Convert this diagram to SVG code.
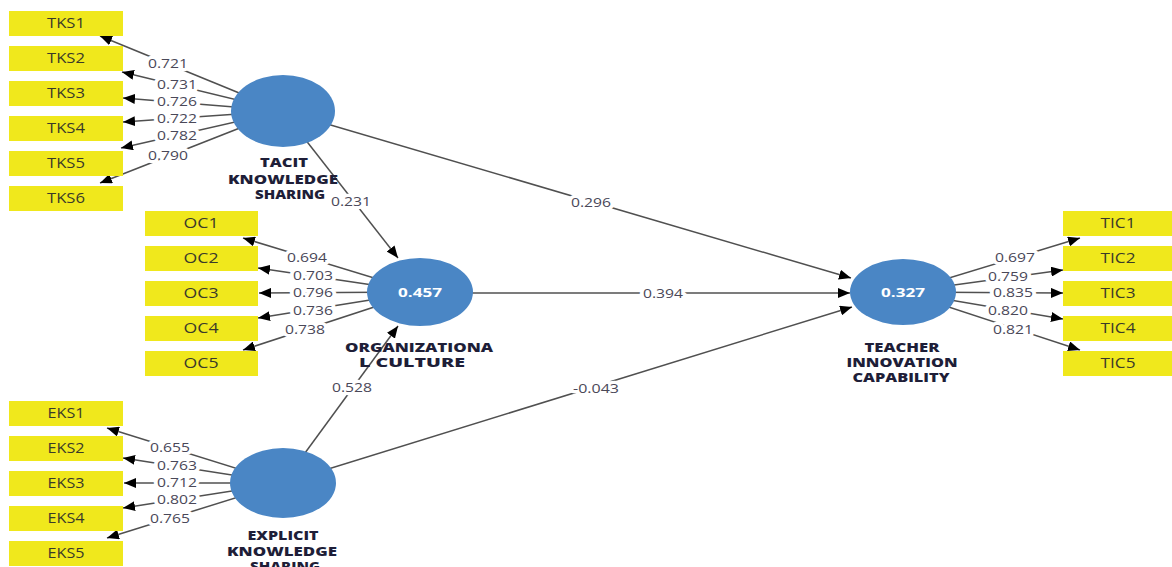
<svg xmlns="http://www.w3.org/2000/svg" width="1172" height="567" viewBox="0 0 1172 567">
<style>
.bg{fill:#ffffff}
.ln{stroke:#505050;stroke-width:1.5;fill:none;marker-end:url(#ah)}
.num{font-family:"Open Sans","Liberation Sans",sans-serif;font-size:13px;fill:#4a4858;stroke:#ffffff;stroke-width:6.5;paint-order:stroke;stroke-linejoin:round;text-anchor:middle}
.box{fill:#f0e81c}
.bt{font-family:"Open Sans","Liberation Sans",sans-serif;font-size:14px;fill:#3a3a2a;text-anchor:middle}
.ell{fill:#4a86c5}
.val{font-family:"Open Sans","Liberation Sans",sans-serif;font-size:13px;font-weight:700;fill:#ffffff;text-anchor:middle}
.lab{font-family:"Open Sans","Liberation Sans",sans-serif;font-size:12.5px;font-weight:800;fill:#1e1e38;text-anchor:middle}
</style>
<defs>
<marker id="ah" markerUnits="userSpaceOnUse" markerWidth="13" markerHeight="10" refX="12" refY="5" orient="auto">
<path d="M0,0 L12,5 L0,10 z" fill="#000000"/>
</marker>
</defs>
<rect class="bg" x="0" y="0" width="1172" height="567"/>
<g id="connectors">
<line class="ln" x1="283" y1="111" x2="100" y2="36"/>
<line class="ln" x1="283" y1="111" x2="122" y2="72"/>
<line class="ln" x1="283" y1="111" x2="123" y2="98"/>
<line class="ln" x1="283" y1="111" x2="123" y2="122"/>
<line class="ln" x1="283" y1="111" x2="121" y2="148"/>
<line class="ln" x1="283" y1="111" x2="100" y2="183"/>
<line class="ln" x1="420" y1="292" x2="243" y2="238"/>
<line class="ln" x1="420" y1="292" x2="258" y2="268"/>
<line class="ln" x1="420" y1="292" x2="259" y2="293"/>
<line class="ln" x1="420" y1="292" x2="258" y2="318"/>
<line class="ln" x1="420" y1="292" x2="243" y2="350"/>
<line class="ln" x1="283" y1="483" x2="107" y2="428"/>
<line class="ln" x1="283" y1="483" x2="123" y2="458"/>
<line class="ln" x1="283" y1="483" x2="124" y2="483"/>
<line class="ln" x1="283" y1="483" x2="123" y2="508"/>
<line class="ln" x1="283" y1="483" x2="107" y2="538"/>
<line class="ln" x1="903" y1="292" x2="1080" y2="238"/>
<line class="ln" x1="903" y1="292" x2="1063" y2="270"/>
<line class="ln" x1="903" y1="292" x2="1063" y2="293"/>
<line class="ln" x1="903" y1="292" x2="1063" y2="319"/>
<line class="ln" x1="903" y1="292" x2="1080" y2="350"/>
<line class="ln" x1="283" y1="111" x2="398" y2="258"/>
<line class="ln" x1="283" y1="483" x2="398" y2="326"/>
<line class="ln" x1="283" y1="111" x2="851" y2="278"/>
<line class="ln" x1="420" y1="293" x2="850" y2="293"/>
<line class="ln" x1="283" y1="483" x2="852" y2="307"/>
<text class="num" x="168" y="68" textLength="40" lengthAdjust="spacingAndGlyphs">0.721</text>
<text class="num" x="177" y="89" textLength="40" lengthAdjust="spacingAndGlyphs">0.731</text>
<text class="num" x="177" y="106" textLength="40" lengthAdjust="spacingAndGlyphs">0.726</text>
<text class="num" x="177" y="123" textLength="40" lengthAdjust="spacingAndGlyphs">0.722</text>
<text class="num" x="177" y="140" textLength="40" lengthAdjust="spacingAndGlyphs">0.782</text>
<text class="num" x="168" y="160" textLength="40" lengthAdjust="spacingAndGlyphs">0.790</text>
<text class="num" x="307" y="262" textLength="40" lengthAdjust="spacingAndGlyphs">0.694</text>
<text class="num" x="313" y="280" textLength="40" lengthAdjust="spacingAndGlyphs">0.703</text>
<text class="num" x="313" y="297" textLength="40" lengthAdjust="spacingAndGlyphs">0.796</text>
<text class="num" x="313" y="315" textLength="40" lengthAdjust="spacingAndGlyphs">0.736</text>
<text class="num" x="305" y="334" textLength="40" lengthAdjust="spacingAndGlyphs">0.738</text>
<text class="num" x="170" y="452" textLength="40" lengthAdjust="spacingAndGlyphs">0.655</text>
<text class="num" x="177" y="470" textLength="40" lengthAdjust="spacingAndGlyphs">0.763</text>
<text class="num" x="177" y="487" textLength="40" lengthAdjust="spacingAndGlyphs">0.712</text>
<text class="num" x="177" y="504" textLength="40" lengthAdjust="spacingAndGlyphs">0.802</text>
<text class="num" x="170" y="523" textLength="40" lengthAdjust="spacingAndGlyphs">0.765</text>
<text class="num" x="1015" y="262" textLength="40" lengthAdjust="spacingAndGlyphs">0.697</text>
<text class="num" x="1008" y="281" textLength="40" lengthAdjust="spacingAndGlyphs">0.759</text>
<text class="num" x="1013" y="297" textLength="40" lengthAdjust="spacingAndGlyphs">0.835</text>
<text class="num" x="1008" y="315" textLength="40" lengthAdjust="spacingAndGlyphs">0.820</text>
<text class="num" x="1013" y="334" textLength="40" lengthAdjust="spacingAndGlyphs">0.821</text>
<text class="num" x="351" y="206" textLength="40" lengthAdjust="spacingAndGlyphs">0.231</text>
<text class="num" x="352" y="392" textLength="40" lengthAdjust="spacingAndGlyphs">0.528</text>
<text class="num" x="591" y="207" textLength="40" lengthAdjust="spacingAndGlyphs">0.296</text>
<text class="num" x="663" y="298" textLength="40" lengthAdjust="spacingAndGlyphs">0.394</text>
<text class="num" x="596" y="393" textLength="46" lengthAdjust="spacingAndGlyphs">-0.043</text>
</g>
<g id="TKS1"><rect class="box" x="9" y="11" width="114" height="25"/><text class="bt" x="66" y="28" textLength="38" lengthAdjust="spacingAndGlyphs">TKS1</text></g>
<g id="TKS2"><rect class="box" x="9" y="46" width="114" height="25"/><text class="bt" x="66" y="63" textLength="38" lengthAdjust="spacingAndGlyphs">TKS2</text></g>
<g id="TKS3"><rect class="box" x="9" y="81" width="114" height="25"/><text class="bt" x="66" y="98" textLength="38" lengthAdjust="spacingAndGlyphs">TKS3</text></g>
<g id="TKS4"><rect class="box" x="9" y="116" width="114" height="25"/><text class="bt" x="66" y="133" textLength="38" lengthAdjust="spacingAndGlyphs">TKS4</text></g>
<g id="TKS5"><rect class="box" x="9" y="151" width="114" height="25"/><text class="bt" x="66" y="168" textLength="38" lengthAdjust="spacingAndGlyphs">TKS5</text></g>
<g id="TKS6"><rect class="box" x="9" y="186" width="114" height="25"/><text class="bt" x="66" y="203" textLength="38" lengthAdjust="spacingAndGlyphs">TKS6</text></g>
<g id="OC1"><rect class="box" x="145" y="211" width="113" height="25"/><text class="bt" x="201" y="228" textLength="35" lengthAdjust="spacingAndGlyphs">OC1</text></g>
<g id="OC2"><rect class="box" x="145" y="246" width="113" height="25"/><text class="bt" x="201" y="263" textLength="35" lengthAdjust="spacingAndGlyphs">OC2</text></g>
<g id="OC3"><rect class="box" x="145" y="281" width="113" height="25"/><text class="bt" x="201" y="298" textLength="35" lengthAdjust="spacingAndGlyphs">OC3</text></g>
<g id="OC4"><rect class="box" x="145" y="316" width="113" height="25"/><text class="bt" x="201" y="333" textLength="35" lengthAdjust="spacingAndGlyphs">OC4</text></g>
<g id="OC5"><rect class="box" x="145" y="351" width="113" height="25"/><text class="bt" x="201" y="368" textLength="35" lengthAdjust="spacingAndGlyphs">OC5</text></g>
<g id="EKS1"><rect class="box" x="9" y="401" width="114" height="25"/><text class="bt" x="66" y="418" textLength="37" lengthAdjust="spacingAndGlyphs">EKS1</text></g>
<g id="EKS2"><rect class="box" x="9" y="436" width="114" height="25"/><text class="bt" x="66" y="453" textLength="37" lengthAdjust="spacingAndGlyphs">EKS2</text></g>
<g id="EKS3"><rect class="box" x="9" y="471" width="114" height="25"/><text class="bt" x="66" y="488" textLength="37" lengthAdjust="spacingAndGlyphs">EKS3</text></g>
<g id="EKS4"><rect class="box" x="9" y="506" width="114" height="25"/><text class="bt" x="66" y="523" textLength="37" lengthAdjust="spacingAndGlyphs">EKS4</text></g>
<g id="EKS5"><rect class="box" x="9" y="541" width="114" height="25"/><text class="bt" x="66" y="558" textLength="37" lengthAdjust="spacingAndGlyphs">EKS5</text></g>
<g id="TIC1"><rect class="box" x="1063" y="211" width="109" height="25"/><text class="bt" x="1118" y="228" textLength="35" lengthAdjust="spacingAndGlyphs">TIC1</text></g>
<g id="TIC2"><rect class="box" x="1063" y="246" width="109" height="25"/><text class="bt" x="1118" y="263" textLength="35" lengthAdjust="spacingAndGlyphs">TIC2</text></g>
<g id="TIC3"><rect class="box" x="1063" y="281" width="109" height="25"/><text class="bt" x="1118" y="298" textLength="35" lengthAdjust="spacingAndGlyphs">TIC3</text></g>
<g id="TIC4"><rect class="box" x="1063" y="316" width="109" height="25"/><text class="bt" x="1118" y="333" textLength="35" lengthAdjust="spacingAndGlyphs">TIC4</text></g>
<g id="TIC5"><rect class="box" x="1063" y="351" width="109" height="25"/><text class="bt" x="1118" y="368" textLength="35" lengthAdjust="spacingAndGlyphs">TIC5</text></g>
<g id="TKS">
<ellipse class="ell" cx="283" cy="111" rx="52" ry="36"/>
<text class="lab" x="284" y="167" textLength="48" lengthAdjust="spacingAndGlyphs">TACIT</text>
<text class="lab" x="283" y="184" textLength="110" lengthAdjust="spacingAndGlyphs">KNOWLEDGE</text>
<text class="lab" x="290" y="199" textLength="70" lengthAdjust="spacingAndGlyphs">SHARING</text>
</g>
<g id="OC">
<ellipse class="ell" cx="420" cy="292" rx="53" ry="34"/>
<text class="val" x="420" y="297" textLength="44" lengthAdjust="spacingAndGlyphs">0.457</text>
<text class="lab" x="419" y="352" textLength="148" lengthAdjust="spacingAndGlyphs">ORGANIZATIONA</text>
<text class="lab" x="412" y="367" textLength="106" lengthAdjust="spacingAndGlyphs">L CULTURE</text>
</g>
<g id="EKS">
<ellipse class="ell" cx="283" cy="483" rx="53" ry="35"/>
<text class="lab" x="283" y="540" textLength="71" lengthAdjust="spacingAndGlyphs">EXPLICIT</text>
<text class="lab" x="282" y="556" textLength="110" lengthAdjust="spacingAndGlyphs">KNOWLEDGE</text>
<text class="lab" x="285" y="571" textLength="70" lengthAdjust="spacingAndGlyphs">SHARING</text>
</g>
<g id="TIC">
<ellipse class="ell" cx="903" cy="292" rx="53" ry="33"/>
<text class="val" x="903" y="297" textLength="44" lengthAdjust="spacingAndGlyphs">0.327</text>
<text class="lab" x="902" y="352" textLength="75" lengthAdjust="spacingAndGlyphs">TEACHER</text>
<text class="lab" x="902" y="367" textLength="111" lengthAdjust="spacingAndGlyphs">INNOVATION</text>
<text class="lab" x="901" y="382" textLength="97" lengthAdjust="spacingAndGlyphs">CAPABILITY</text>
</g>
</svg>
